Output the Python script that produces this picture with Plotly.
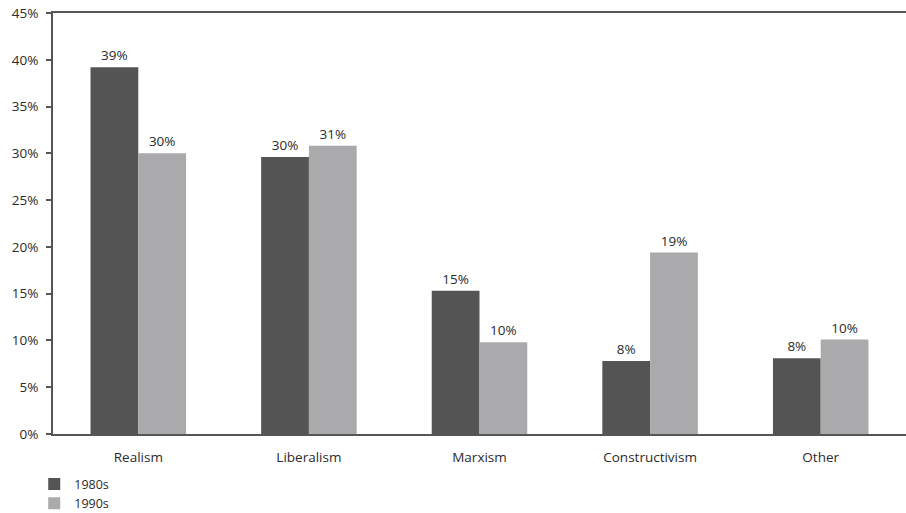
import plotly.graph_objects as go

categories = ["Realism", "Liberalism", "Marxism", "Constructivism", "Other"]
series_1980s = [39.2, 29.6, 15.3, 7.8, 8.1]
series_1990s = [30.0, 30.8, 9.8, 19.4, 10.1]
tick_vals = [0, 5, 10, 15, 20, 25, 30, 35, 40, 45]
tick_text = [f"{v}%" for v in tick_vals]

FONT = "Open Sans"
TXT = "#2b2b2b"
fig = go.Figure()
fig.add_trace(go.Bar(
    name="1980s", x=categories, y=series_1980s,
    marker=dict(color="#545454", line=dict(width=0)),
    texttemplate="%{y:.0f}%", textposition="outside",
    textfont=dict(color=TXT, size=13.5, family=FONT), cliponaxis=False,
))
fig.add_trace(go.Bar(
    name="1990s", x=categories, y=series_1990s,
    marker=dict(color="#aaaaac", line=dict(width=0)),
    texttemplate="%{y:.0f}%", textposition="outside",
    textfont=dict(color=TXT, size=13.5, family=FONT), cliponaxis=False,
))

fig.update_layout(
    width=906, height=513,
    margin=dict(l=53, r=0, t=13, b=79, autoexpand=False),
    paper_bgcolor="white", plot_bgcolor="white",
    barmode="group", bargap=0.44, bargroupgap=0,
    font=dict(family=FONT, size=13.5, color=TXT),
    showlegend=True,
    legend=dict(orientation="v", x=-0.022, xanchor="left", y=-0.084, yanchor="top",
                font=dict(size=12.5, color=TXT), traceorder="normal",
                itemwidth=30, tracegroupgap=0, bgcolor="rgba(0,0,0,0)"),
    xaxis=dict(showline=True, linecolor="#555555", linewidth=2, mirror=True,
               ticks="", showgrid=False, ticklabelstandoff=10,
               tickfont=dict(size=13.5, color=TXT)),
    yaxis=dict(range=[0, 45], tickvals=tick_vals, ticktext=tick_text,
               showline=True, linecolor="#555555", linewidth=2,
               ticks="outside", ticklen=5, tickcolor="#555555", tickwidth=2,
               showgrid=False, zeroline=False, ticklabelstandoff=5,
               tickfont=dict(size=13.5, color=TXT)),
)

fig.write_html("out.html", config={"displayModeBar": False},
               post_script="document.body.style.margin='0';")
